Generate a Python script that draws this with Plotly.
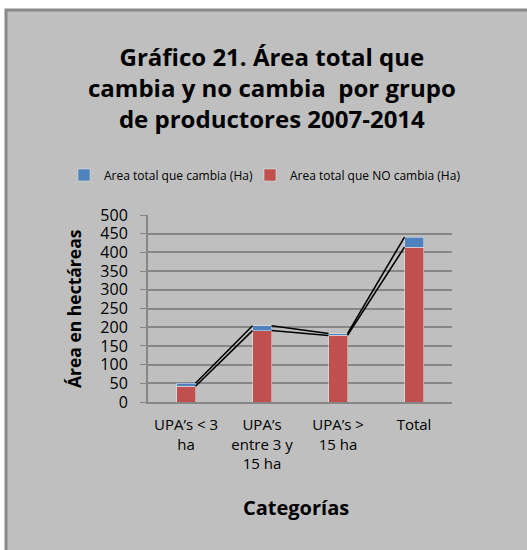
import plotly.graph_objects as go

categories = ["UPA’s &lt; 3<br>ha", "UPA’s<br>entre 3 y<br>15 ha", "UPA’s &gt;<br>15 ha", "Total"]
no_cambia = [42, 191, 178, 414]
cambia = [8, 13, 5, 27]
name_cambia = "Area total que cambia (Ha)"
name_no = "Area total que NO cambia (Ha)"
y_ticks = list(range(0, 501, 50))

FONT = "Open Sans"
BLUE = "#4F81BD"
RED = "#C0504D"
BAR_W = 0.25

xs = list(range(len(categories)))

fig = go.Figure()
fig.add_trace(go.Bar(x=xs, y=no_cambia, name=name_no, marker_color=RED, width=BAR_W, legend="legend2"))
fig.add_trace(go.Bar(x=xs, y=cambia, name=name_cambia, marker_color=BLUE, width=BAR_W, legend="legend"))

# series lines (Excel style) joining tops of each stacked segment
tops_red = no_cambia
tops_blue = [a + b for a, b in zip(no_cambia, cambia)]
for tops in (tops_red, tops_blue):
    lx, ly = [], []
    for i in range(len(xs) - 1):
        lx += [xs[i] + BAR_W / 2, xs[i + 1] - BAR_W / 2, None]
        ly += [tops[i], tops[i + 1], None]
    fig.add_trace(go.Scatter(x=lx, y=ly, mode="lines", line=dict(color="black", width=1.6),
                             showlegend=False, hoverinfo="skip"))

# geometry helpers (plot area: x 148..452, y 215..402)
L, R, T, B = 148, 452, 215, 402
W, H = R - L, B - T
def px(x): return (x - L) / W
def py(y): return (B - y) / H

fig.add_shape(type="rect", xref="paper", yref="paper",
              x0=px(6), x1=px(540), y0=py(565), y1=py(10),
              fillcolor="#BFBFBF", line=dict(color="#898989", width=3), layer="below")

fig.add_annotation(text="<b>Gráfico 21. Área total que<br>cambia y no cambia  por grupo<br>de productores 2007-2014</b>",
                   xref="paper", yref="paper", x=px(272), y=py(87), xanchor="center", yanchor="middle",
                   showarrow=False, font=dict(family=FONT, size=24, color="black"))
fig.add_annotation(text="<b>Área en hectáreas</b>", textangle=-90,
                   xref="paper", yref="paper", x=px(74), y=py(309), xanchor="center", yanchor="middle",
                   showarrow=False, font=dict(family=FONT, size=17.5, color="black"))
fig.add_annotation(text="<b>Categorías</b>",
                   xref="paper", yref="paper", x=px(296), y=py(507), xanchor="center", yanchor="middle",
                   showarrow=False, font=dict(family=FONT, size=20, color="black"))

leg_common = dict(orientation="h", xanchor="left", yanchor="middle",
                  font=dict(family=FONT, size=12), bgcolor="rgba(0,0,0,0)", itemwidth=30,
                  borderwidth=0)

fig.update_layout(
    width=527, height=550,
    margin=dict(l=L, r=527 - R, t=T, b=550 - B, autoexpand=False),
    paper_bgcolor="white", plot_bgcolor="white",
    barmode="stack",
    font=dict(family=FONT, color="black"),
    legend=dict(x=px(64), y=py(175), **leg_common),
    legend2=dict(x=px(250), y=py(175), **leg_common),
    xaxis=dict(range=[-0.5, 3.5], tickvals=xs, ticktext=categories, showgrid=False,
               showline=True, linecolor="#868686", linewidth=2, ticks="",
               tickfont=dict(family=FONT, size=15), zeroline=False, fixedrange=True,
               ticklabelstandoff=8),
    yaxis=dict(range=[0, 500], tickvals=y_ticks, showgrid=True, gridcolor="#868686", gridwidth=1.5,
               showline=True, linecolor="#868686", linewidth=2, ticks="outside", ticklen=6,
               tickcolor="#868686", tickfont=dict(family=FONT, size=16), zeroline=False,
               ticklabelstandoff=9, fixedrange=True),
    showlegend=True,
)

fig.write_html("out.html", config={"displayModeBar": False},
               post_script="document.body.style.margin='0';document.body.style.overflow='hidden';")
